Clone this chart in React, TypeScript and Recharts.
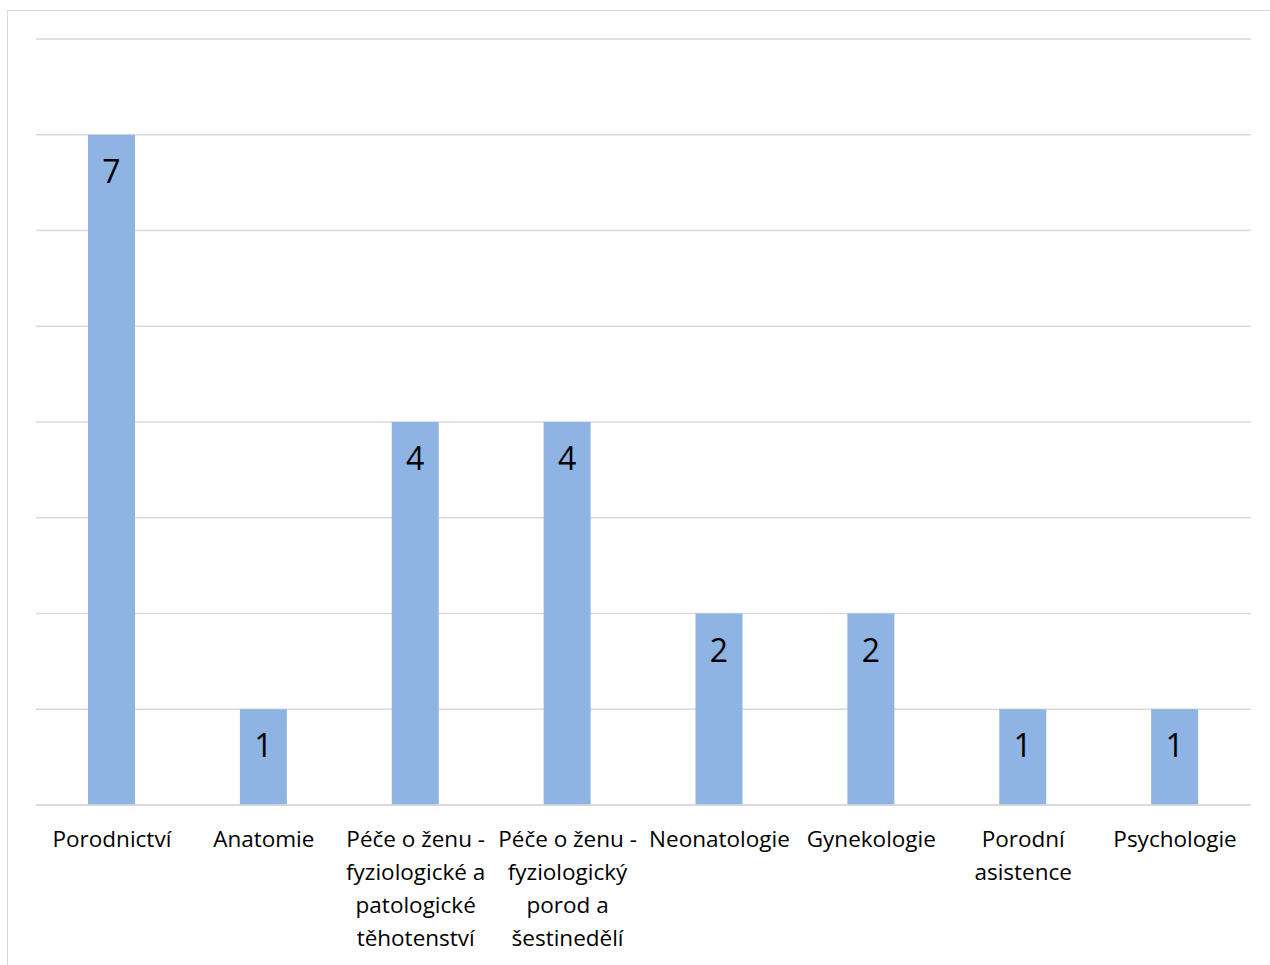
import { BarChart, Bar, XAxis, YAxis, CartesianGrid, LabelList } from 'recharts';

const categories = [
  'Porodnictví',
  'Anatomie',
  'Péče o ženu - fyziologické a patologické těhotenství',
  'Péče o ženu - fyziologický porod a šestinedělí',
  'Neonatologie',
  'Gynekologie',
  'Porodní asistence',
  'Psychologie',
];

const labelLines = [
  ['Porodnictví'],
  ['Anatomie'],
  ['Péče o ženu -', 'fyziologické a', 'patologické', 'těhotenství'],
  ['Péče o ženu -', 'fyziologický', 'porod a', 'šestinedělí'],
  ['Neonatologie'],
  ['Gynekologie'],
  ['Porodní', 'asistence'],
  ['Psychologie'],
];

const counts = [7, 1, 4, 4, 2, 2, 1, 1];

const yTicks = [0, 1, 2, 3, 4, 5, 6, 7, 8];

const data = categories.map((name, i) => ({ name, value: counts[i] }));

const FONT = '"Open Sans", sans-serif';

function CategoryTick(props: any) {
  const { x, y, index } = props;
  const lines = labelLines[index] ?? [];
  return (
    <text x={x} y={y} textAnchor="middle" fill="#000" fontFamily={FONT} fontSize={22.5}>
      {lines.map((line, i) => (
        <tspan key={i} x={x} dy={i === 0 ? 42 : 33}>
          {line}
        </tspan>
      ))}
    </text>
  );
}

function ValueLabel(props: any) {
  const { x, y, width, value } = props;
  return (
    <text x={x + width / 2} y={y + 48} textAnchor="middle" fill="#000" fontFamily={FONT} fontSize={32}>
      {value}
    </text>
  );
}

export default function App() {
  return (
    <div style={{ position: 'absolute', left: 0, top: 0, width: 1270, height: 965, background: '#fff', overflow: 'hidden' }}>
      <div
        style={{
          position: 'absolute',
          left: 7,
          top: 10,
          width: 1280,
          height: 980,
          border: '1px solid #d9d9d9',
        }}
      />
      <div style={{ position: 'absolute', left: 0, top: 0 }}>
        <BarChart
          width={1270}
          height={965}
          data={data}
          margin={{ top: 39, right: 19, bottom: 130, left: 36 }}
        >
          <CartesianGrid vertical={false} stroke="#d9d9d9" strokeWidth={1.5} />
          <XAxis
            dataKey="name"
            height={30}
            axisLine={{ stroke: '#d9d9d9', strokeWidth: 1.5 }}
            tickLine={false}
            tickSize={0}
            tickMargin={0}
            interval={0}
            tick={<CategoryTick />}
          />
          <YAxis hide domain={[0, 8]} ticks={yTicks} />
          <Bar dataKey="value" fill="#8eb4e3" barSize={47} isAnimationActive={false}>
            <LabelList dataKey="value" content={<ValueLabel />} />
          </Bar>
        </BarChart>
      </div>
    </div>
  );
}
